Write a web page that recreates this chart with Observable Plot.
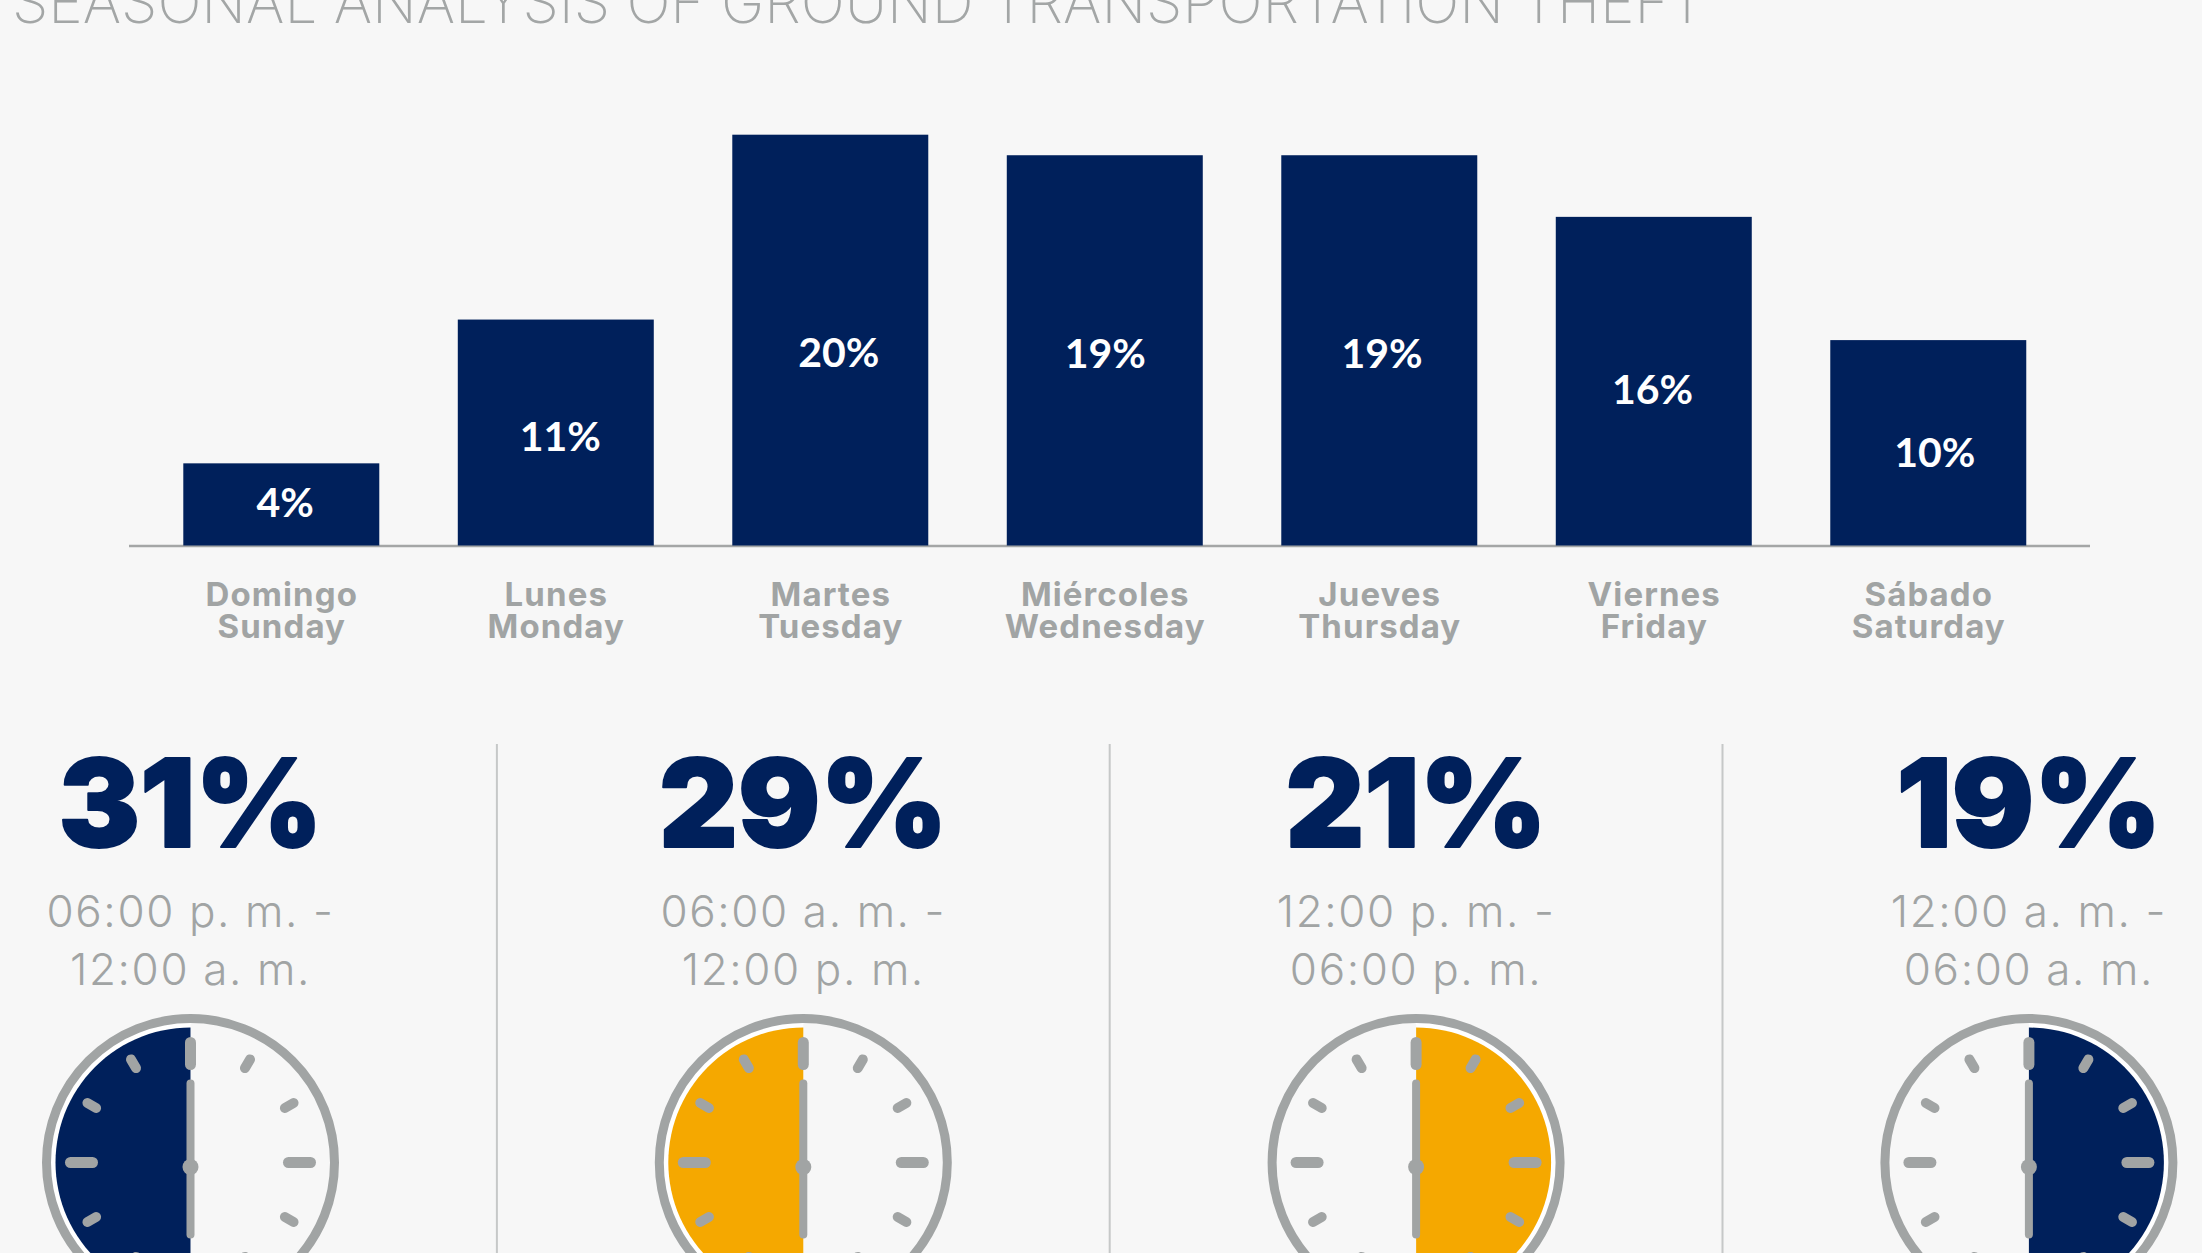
<!DOCTYPE html>
<html lang="es">
<head>
<meta charset="utf-8">
<script src="https://cdn.jsdelivr.net/npm/d3@7"></script>
<script src="https://cdn.jsdelivr.net/npm/@observablehq/plot@0.6"></script>
<style>
html,body{margin:0;padding:0;width:2202px;height:1253px;overflow:hidden;background:#f7f7f7;}
#title{height:60px;overflow:hidden;position:relative;font-family:Inter,sans-serif;font-weight:200;color:#a3a6a6;}
#title div{position:absolute;left:12px;top:-38px;font-size:58.4px;line-height:80px;white-space:nowrap;letter-spacing:0;}
svg{display:block;}
#bars g[aria-label="x-axis tick label"]{letter-spacing:1.1px;}
g.times{letter-spacing:1.6px;}
</style>
</head>
<body>
<div id="title"><div>SEASONAL ANALYSIS OF GROUND TRANSPORTATION THEFT</div></div>
<div id="bars"></div>
<div id="clocks"></div>
<script>
// ---- data ----
const daysEs = ["Domingo","Lunes","Martes","Miércoles","Jueves","Viernes","Sábado"];
const daysEn = ["Sunday","Monday","Tuesday","Wednesday","Thursday","Friday","Saturday"];
const dayShare = [4,11,20,19,19,16,10];
const shiftShare = [31,29,21,19];
const shiftFrom = ["06:00 p. m.","06:00 a. m.","12:00 p. m.","12:00 a. m."];
const shiftTo = ["12:00 a. m.","12:00 p. m.","06:00 p. m.","06:00 a. m."];
const shiftStartHour = [18,6,12,0];
const shiftHours = 6;
const shiftHighlight = [false,true,true,false];

// ---- styles ----
const navy="#00205b", amber="#f5a800", gray="#a1a4a4", divider="#c6c8c8";
const sans="Inter, sans-serif";

// ---- weekly bars ----
const dayRows = daysEs.map((es,i)=>({key:es+"\n"+daysEn[i],share:dayShare[i]}));
const labelNudge = [[3.4,-1],[4,5],[8,13],[0,4.4],[2.3,4.4],[-1.7,9.4],[6,11]];
const barChart = Plot.plot({
  width:2202,height:640,
  marginLeft:129,marginRight:112,marginTop:74.7,marginBottom:154.5,
  style:{background:"transparent",fontFamily:sans},
  x:{domain:dayRows.map(d=>d.key),paddingInner:0.286,paddingOuter:0.215,align:0.46,round:false,label:null},
  y:{domain:[0,20],axis:null},
  marks:[
    Plot.ruleY([0],{stroke:"#a4a6a6",strokeWidth:2.5}),
    Plot.barY(dayRows,{x:"key",y:"share",fill:navy}),
    ...dayRows.map((d,i)=>Plot.text([d],{
      x:"key",y:r=>r.share/2,text:r=>r.share+"%",
      fill:"#fff",fontFamily:"Lato, sans-serif",fontSize:41,fontWeight:700,dx:labelNudge[i][0],dy:labelNudge[i][1]
    })),
    Plot.axisX({tickSize:0,tickPadding:37,fontSize:33,fontWeight:700,lineHeight:0.98,fill:gray,label:null})
  ]
});
document.getElementById("bars").append(barChart);

// ---- shift clocks: one x/y unit is one clock radius ----
const panelW=2202,panelH=553,unit=148,centerX=190,centerY=462,spacing=612.8/unit;
const polar=(col,hour,r)=>({
  x:col*spacing+r*Math.sin(hour*Math.PI/6),
  y:r*Math.cos(hour*Math.PI/6)
});
const px=v=>v/unit;
const halfDisc=(col,start,r)=>[
  {...polar(col,0,0),col},
  ...d3.range(start,start+shiftHours+0.01,0.1).map(h=>({...polar(col,h,r),col})),
  {...polar(col,0,0),col}
];
const shifts=shiftShare.map((s,i)=>({col:i,share:s,from:shiftFrom[i],to:shiftTo[i],start:shiftStartHour[i],hi:shiftHighlight[i]}));
const hourTicks=d3.cross(d3.range(4),d3.range(12)).map(([col,h])=>{
  const major=h%3===0;
  const a=polar(col,h,px(major?98:109)), b=polar(col,h,px(major?120:119));
  return {x1:a.x,y1:a.y,x2:b.x,y2:b.y,major};
});
const clockChart = Plot.plot({
  width:panelW,height:panelH,margin:0,
  style:{background:"transparent",fontFamily:sans},
  x:{domain:[-centerX/unit,(panelW-centerX)/unit],range:[0,panelW],axis:null},
  y:{domain:[(centerY-panelH)/unit,centerY/unit],range:[panelH,0],axis:null},
  marks:[
    Plot.ruleX([0.5,1.5,2.5].map(c=>c*spacing),{y1:px(centerY-44),y2:px(centerY-panelH),stroke:divider,strokeWidth:2}),
    Plot.text(shifts,{x:d=>d.col*spacing,y:px(centerY-107),text:d=>d.share+"%",fill:navy,stroke:navy,strokeWidth:2,fontSize:122,fontWeight:900}),
    Plot.text(shifts,{x:d=>d.col*spacing,y:px(centerY-212),text:d=>d.from+" -",fill:gray,fontSize:44,fontWeight:300,className:"times"}),
    Plot.text(shifts,{x:d=>d.col*spacing,y:px(centerY-270),text:d=>d.to,fill:gray,fontSize:44,fontWeight:300,className:"times"}),
    Plot.line(shifts.flatMap(d=>halfDisc(d.col,d.start%12,px(140))),{x:"x",y:"y",z:"col",fill:"#fff",stroke:null}),
    Plot.line(shifts.flatMap(d=>halfDisc(d.col,d.start%12,px(135)).map(p=>({...p,hi:d.hi}))),{x:"x",y:"y",z:"col",fill:d=>d.hi?amber:navy,stroke:null}),
    Plot.dot(shifts,{x:d=>d.col*spacing,y:0,r:144,stroke:gray,strokeWidth:9,fill:"none"}),
    Plot.link(hourTicks.filter(d=>d.major),{x1:"x1",y1:"y1",x2:"x2",y2:"y2",stroke:gray,strokeWidth:11,strokeLinecap:"round"}),
    Plot.link(hourTicks.filter(d=>!d.major),{x1:"x1",y1:"y1",x2:"x2",y2:"y2",stroke:gray,strokeWidth:10,strokeLinecap:"round"}),
    Plot.link(shifts,{x1:d=>d.col*spacing,x2:d=>d.col*spacing,y1:px(79),y2:px(-72),stroke:gray,strokeWidth:8,strokeLinecap:"round"}),
    Plot.dot(shifts,{x:d=>d.col*spacing,y:px(-4.5),r:8,fill:gray,stroke:null})
  ]
});
document.getElementById("clocks").append(clockChart);
</script>
</body>
</html>
